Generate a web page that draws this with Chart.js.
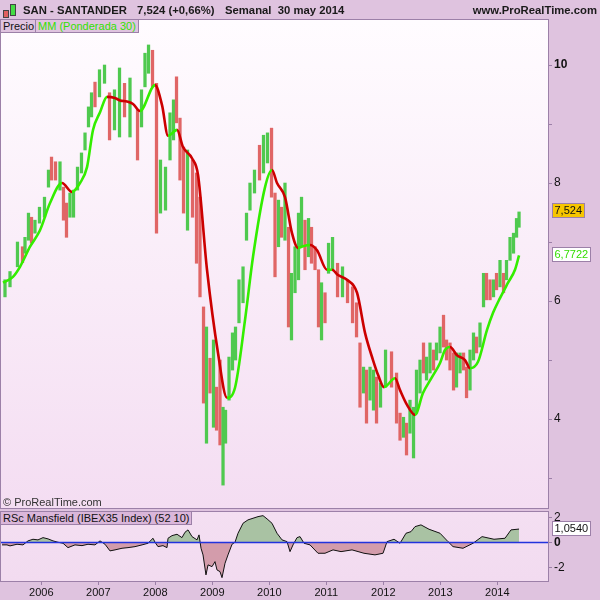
<!DOCTYPE html>
<html>
<head>
<meta charset="utf-8">
<script src="https://cdn.jsdelivr.net/npm/chart.js@4.4.1/dist/chart.umd.min.js"></script>
<style>
  body { margin: 0; background: #dfc3df; font-family: "Liberation Sans", Arial, sans-serif; }
  #wrap { position: relative; width: 600px; height: 600px; overflow: hidden; }
  canvas { position: absolute; left: 0; }
  .hdr { position: absolute; top: 4px; font-weight: bold; font-size: 11.3px; color: #1a1a1a; white-space: nowrap; }
  .tag { position: absolute; height: 12px; line-height: 12px; padding: 0 2px; font-size: 11px;
         background: #dfc3df; border: 1px solid #9c80a8; white-space: nowrap; color: #111; z-index: 2; }
  .candle { position: absolute; border: 1px solid #444; }
</style>
</head>
<body>
<div id="wrap">
  <canvas id="price" width="600" height="509" style="top:0"></canvas>
  <canvas id="rsc" width="600" height="91" style="top:509px"></canvas>

  <div class="candle" style="left:3px;top:10px;width:4px;height:6px;background:#e06060"></div>
  <div class="candle" style="left:10px;top:4px;width:4px;height:10px;background:#44dd44"></div>
  <div class="hdr" style="left:23px">SAN - SANTANDER</div>
  <div class="hdr" style="left:137px">7,524 (+0,66%)</div>
  <div class="hdr" style="left:225px">Semanal&nbsp; 30 may 2014</div>
  <div class="hdr" style="right:3px">www.ProRealTime.com</div>

  <div class="tag" style="left:0;top:19px">Precio</div>
  <div class="tag" style="left:35px;top:19px;color:#33e000">MM (Ponderada 30)</div>
  <div style="position:absolute;left:3px;top:496px;font-size:11px;color:#333">© ProRealTime.com</div>
  <div class="tag" style="left:0;top:511px;background:#dab6da">RSc Mansfield (IBEX35 Index) (52 10)</div>
</div>

<script>
// weekly bars (about 3 weeks per bar)
const barDates = [2005.363, 2005.451, 2005.582, 2005.670, 2005.714, 2005.775, 2005.828, 2005.889, 2005.968, 2006.056,
  2006.126, 2006.179, 2006.249, 2006.328, 2006.389, 2006.442, 2006.503, 2006.565, 2006.635, 2006.705,
  2006.767, 2006.828, 2006.881, 2006.942, 2007.021, 2007.109, 2007.197, 2007.284, 2007.372, 2007.460,
  2007.556, 2007.688, 2007.758, 2007.819, 2007.881, 2007.951, 2008.021, 2008.091, 2008.179, 2008.258,
  2008.319, 2008.372, 2008.433, 2008.495, 2008.565, 2008.653, 2008.723, 2008.784, 2008.846, 2008.898,
  2008.960, 2009.021, 2009.074, 2009.135, 2009.188, 2009.232, 2009.293, 2009.354, 2009.407, 2009.468,
  2009.539, 2009.600, 2009.661, 2009.740, 2009.828, 2009.898, 2009.968, 2010.039, 2010.100, 2010.161,
  2010.214, 2010.275, 2010.337, 2010.389, 2010.451, 2010.512, 2010.565, 2010.626, 2010.688, 2010.740,
  2010.802, 2010.863, 2010.916, 2010.977, 2011.039, 2011.109, 2011.197, 2011.284, 2011.372, 2011.460,
  2011.530, 2011.591, 2011.653, 2011.705, 2011.767, 2011.828, 2011.881, 2011.951, 2012.039, 2012.144,
  2012.232, 2012.293, 2012.354, 2012.407, 2012.468, 2012.530, 2012.582, 2012.644, 2012.705, 2012.758,
  2012.819, 2012.881, 2012.933, 2012.995, 2013.056, 2013.109, 2013.170, 2013.232, 2013.284, 2013.346,
  2013.407, 2013.460, 2013.521, 2013.582, 2013.635, 2013.696, 2013.758, 2013.810, 2013.872, 2013.933,
  2013.986, 2014.047, 2014.109, 2014.161, 2014.223, 2014.284, 2014.337, 2014.381];

const barHigh = [6.36, 6.50, 7.00, 6.92, 7.08, 7.49, 7.42, 7.37, 7.59, 7.76,
  8.22, 8.44, 8.36, 8.36, 7.93, 7.66, 7.83, 7.88, 8.27, 8.51,
  8.85, 9.29, 9.53, 9.71, 9.92, 10.00, 9.53, 9.58, 9.95, 9.69,
  9.78, 9.24, 9.58, 10.20, 10.34, 10.25, 9.69, 8.39, 8.27, 9.19,
  9.41, 9.80, 9.10, 8.61, 8.56, 8.39, 8.17, 7.76, 5.90, 5.56,
  5.03, 5.34, 4.54, 5.00, 4.20, 4.15, 5.05, 5.46, 5.56, 6.36,
  6.58, 7.49, 8.00, 8.22, 8.64, 8.81, 8.85, 8.93, 7.83, 7.71,
  7.59, 8.00, 7.25, 6.47, 6.92, 7.49, 7.76, 7.37, 7.40, 7.25,
  6.92, 6.53, 6.31, 6.14, 6.98, 7.08, 6.64, 6.58, 6.36, 6.24,
  5.97, 5.29, 4.88, 4.83, 4.88, 4.83, 4.71, 4.61, 5.17, 5.14,
  4.78, 4.10, 4.03, 3.93, 4.32, 4.20, 4.83, 5.00, 5.29, 5.05,
  5.29, 5.17, 5.29, 5.56, 5.76, 5.34, 5.29, 5.12, 5.12, 5.12,
  5.12, 4.88, 5.17, 5.46, 5.39, 5.63, 6.47, 6.47, 6.36, 6.36,
  6.47, 6.69, 6.47, 6.69, 7.08, 7.15, 7.40, 7.51];

const barLow = [6.07, 6.24, 6.58, 6.65, 6.81, 7.03, 6.98, 7.15, 7.32, 7.42,
  7.93, 8.05, 8.05, 7.88, 7.37, 7.08, 7.42, 7.42, 7.88, 8.17,
  8.56, 8.95, 9.12, 9.29, 9.46, 9.69, 8.73, 8.90, 8.78, 9.12,
  8.78, 8.39, 8.95, 9.63, 9.86, 9.63, 7.15, 7.49, 7.54, 8.39,
  8.73, 9.02, 8.05, 7.49, 7.20, 7.42, 6.64, 6.07, 4.27, 3.59,
  4.44, 3.86, 3.81, 3.56, 2.88, 3.59, 4.32, 4.83, 5.00, 5.63,
  5.97, 7.03, 7.54, 7.83, 8.05, 8.17, 8.34, 7.76, 6.41, 6.92,
  7.08, 7.03, 5.56, 5.34, 6.14, 6.36, 6.92, 6.53, 6.75, 6.64,
  6.53, 5.56, 5.34, 5.63, 6.47, 6.53, 6.07, 6.07, 5.97, 5.63,
  5.39, 4.20, 4.44, 3.93, 4.32, 4.15, 3.93, 4.20, 4.54, 4.54,
  3.93, 3.64, 3.69, 3.39, 3.76, 3.34, 4.10, 4.44, 4.78, 4.66,
  4.78, 4.83, 5.00, 5.12, 5.22, 5.00, 4.83, 4.49, 4.54, 4.78,
  4.83, 4.36, 4.49, 5.00, 5.12, 5.22, 5.90, 6.02, 6.02, 6.07,
  6.19, 6.24, 6.14, 6.36, 6.69, 6.81, 7.08, 7.25];

// 1 = closed up (green), 0 = closed down (red)
const barUp = [1, 1, 1, 0, 1, 1, 0, 1, 1, 1,
  1, 0, 0, 1, 0, 0, 1, 1, 1, 1,
  1, 1, 1, 0, 1, 1, 0, 1, 1, 0,
  1, 0, 1, 1, 1, 0, 0, 1, 1, 1,
  1, 0, 0, 0, 1, 0, 0, 0, 0, 1,
  0, 1, 0, 0, 1, 1, 1, 1, 1, 1,
  1, 1, 1, 1, 0, 1, 1, 0, 0, 1,
  0, 1, 0, 1, 1, 1, 1, 0, 1, 0,
  0, 0, 1, 0, 1, 1, 0, 1, 0, 0,
  0, 0, 1, 0, 1, 1, 0, 1, 1, 0,
  0, 0, 1, 0, 1, 1, 1, 1, 0, 1,
  1, 0, 1, 1, 0, 0, 0, 0, 1, 1,
  0, 0, 1, 1, 0, 1, 1, 0, 0, 1,
  0, 1, 0, 1, 1, 1, 1, 1];

// weighted moving average 30
const maDates = [2005.328, 2005.503, 2005.626, 2005.802, 2005.977, 2006.153, 2006.363, 2006.539, 2006.679, 2006.802,
  2006.907, 2007.030, 2007.153, 2007.293, 2007.381, 2007.503, 2007.609, 2007.732, 2007.995, 2008.118,
  2008.223, 2008.381, 2008.486, 2008.644, 2008.749, 2008.907, 2009.100, 2009.258, 2009.398, 2009.574,
  2009.714, 2009.925, 2010.047, 2010.135, 2010.275, 2010.398, 2010.503, 2010.591, 2010.714, 2010.837,
  2011.012, 2011.100, 2011.205, 2011.363, 2011.539, 2011.679, 2011.819, 2011.907, 2012.012, 2012.205,
  2012.293, 2012.416, 2012.556, 2012.696, 2012.854, 2012.995, 2013.082, 2013.170, 2013.293, 2013.433,
  2013.521, 2013.661, 2013.819, 2013.925, 2014.047, 2014.188, 2014.310, 2014.381];

const maValues = [6.31, 6.41, 6.58, 6.92, 7.20, 7.66, 8.00, 7.85, 8.00, 8.27,
  8.90, 9.20, 9.46, 9.44, 9.40, 9.38, 9.34, 9.22, 9.66, 9.32,
  8.80, 8.90, 8.61, 8.42, 8.14, 6.53, 5.12, 4.36, 4.53, 5.68,
  6.75, 7.93, 8.22, 8.00, 7.76, 7.15, 6.90, 6.93, 6.95, 6.86,
  6.53, 6.53, 6.44, 6.36, 6.14, 5.46, 5.00, 4.75, 4.54, 4.69,
  4.49, 4.24, 4.07, 4.44, 4.71, 4.95, 5.17, 5.22, 5.08, 5.00,
  4.86, 4.97, 5.51, 5.80, 6.05, 6.31, 6.53, 6.7722];

// RSc Mansfield vs IBEX35 (52 10)
const rsDates = [2005.311, 2005.398, 2005.451, 2005.574, 2005.679, 2005.767, 2005.854, 2005.942, 2006.030, 2006.118,
  2006.205, 2006.293, 2006.381, 2006.468, 2006.591, 2006.714, 2006.819, 2006.942, 2007.030, 2007.118,
  2007.205, 2007.293, 2007.416, 2007.521, 2007.644, 2007.767, 2007.872, 2007.960, 2007.995, 2008.047,
  2008.135, 2008.205, 2008.223, 2008.293, 2008.381, 2008.468, 2008.521, 2008.574, 2008.644, 2008.732,
  2008.767, 2008.802, 2008.837, 2008.889, 2008.925, 2008.995, 2009.047, 2009.082, 2009.135, 2009.170,
  2009.223, 2009.275, 2009.346, 2009.398, 2009.451, 2009.539, 2009.626, 2009.714, 2009.802, 2009.889,
  2009.960, 2010.047, 2010.135, 2010.223, 2010.311, 2010.363, 2010.416, 2010.486, 2010.539, 2010.609,
  2010.714, 2010.854, 2010.977, 2011.118, 2011.258, 2011.451, 2011.661, 2011.854, 2011.995, 2012.065,
  2012.188, 2012.293, 2012.398, 2012.486, 2012.556, 2012.661, 2012.802, 2012.995, 2013.135, 2013.223,
  2013.398, 2013.574, 2013.732, 2013.942, 2014.135, 2014.240, 2014.381];

const rsValues = [-0.21, -0.21, -0.29, -0.16, -0.21, 0.11, 0.24, 0.19, 0.37, 0.27,
  0.11, 0.00, -0.08, -0.43, -0.21, -0.27, -0.16, -0.21, 0.11, -0.16,
  -0.69, -0.61, -0.48, -0.43, -0.35, -0.21, -0.08, 0.32, 0.00, -0.35,
  -0.27, -0.43, 0.32, 0.53, 0.64, 0.37, 0.80, 0.99, 0.45, 0.19,
  0.59, -0.48, -1.01, -2.61, -1.81, -1.95, -1.55, -2.21, -2.35, -2.83,
  -1.68, -1.01, -0.16, 0.00, 0.72, 1.52, 1.79, 1.92, 2.05, 2.13,
  1.87, 1.52, 0.72, 0.19, 0.05, -0.75, -0.21, 0.37, 0.45, -0.08,
  -0.21, -0.88, -0.88, -0.61, -0.75, -0.61, -0.88, -1.01, -0.88, 0.05,
  0.24, -0.08, 0.72, 0.85, 1.25, 1.39, 1.04, 0.72, 0.05, -0.35,
  -0.48, -0.08, 0.45, 0.24, 0.32, 0.99, 1.054];

const years = [2006, 2007, 2008, 2009, 2010, 2011, 2012, 2013, 2014];
const priceTicks = [3, 4, 5, 6, 7, 8, 9, 10];
const rsTicks = [-2, 0, 2];
const lastClose = 7.524;
const lastMA = 6.7722;
const lastRS = 1.054;

const xMin = 2005.293;
const xMax = 2014.889;
const upColor = "#4fc94f";
const downColor = "#e06666";
const frame = "#9c80a8";

Chart.defaults.font.family = "'Liberation Sans', Arial, sans-serif";

const toComma = (v, d) => v.toFixed(d).replace(".", ",");

// right axis keeps a fixed width and no extra room for its end labels
const fixAxis = (s) => {
    s.width = 52;
    s.paddingTop = 0;
    s.paddingBottom = 0;
};

// background, frame, zero line and the little value boxes on the axis
const panel = {
  id: "panel",
  beforeDraw: (chart, args, opts) => {
    let {ctx, chartArea} = chart;
    let g = ctx.createLinearGradient(0, chartArea.top, 0, chartArea.bottom);
    g.addColorStop(0, opts.top);
    g.addColorStop(1, opts.bottom);
    ctx.save();
    ctx.fillStyle = g;
    ctx.fillRect(chartArea.left, chartArea.top, chartArea.width, chartArea.height);
    ctx.restore();
  },
  afterDatasetsDraw: (chart, args, opts) => {
    if (!opts.zero) return;
    let {ctx, chartArea} = chart;
    let y = Math.round(chart.scales.y.getPixelForValue(0)) + 0.5;
    ctx.save();
    ctx.strokeStyle = "#2233dd";
    ctx.lineWidth = 1.5;
    ctx.beginPath();
    ctx.moveTo(chartArea.left, y);
    ctx.lineTo(chartArea.right, y);
    ctx.stroke();
    ctx.restore();
  },
  afterDraw: (chart, args, opts) => {
    let {ctx, chartArea} = chart;
    ctx.save();
    ctx.strokeStyle = frame;
    ctx.lineWidth = 1;
    ctx.strokeRect(chartArea.left - 0.5, chartArea.top - 0.5, chartArea.width + 1, chartArea.height + 1);
    ctx.font = "11px 'Liberation Sans', Arial, sans-serif";
    ctx.textBaseline = "middle";
    (opts.tags || []).forEach((t) => {
      let y = Math.round(chart.scales.y.getPixelForValue(t.value));
      let w = Math.ceil(ctx.measureText(t.text).width) + 4;
      ctx.fillStyle = t.bg;
      ctx.fillRect(552.5, y - 7.5, w, 14);
      ctx.strokeStyle = frame;
      ctx.strokeRect(552.5, y - 7.5, w, 14);
      ctx.fillStyle = t.fg;
      ctx.fillText(t.text, 554.5, y);
    });
    ctx.restore();
  }
};

const priceChart = new Chart(document.getElementById("price"), {
  type: "bar",
  data: {
    datasets: [
      {
        type: "line",
        data: maDates.map((d, i) => ({x: d, y: maValues[i]})),
        borderColor: "#33ee00",
        borderWidth: 2.6,
        pointRadius: 0,
        cubicInterpolationMode: "monotone",
        segment: {
          borderColor: (c) => c.p1.parsed.y >= c.p0.parsed.y ? "#33ee00" : "#cc0000"
        },
        order: 0
      },
      {
        type: "bar",
        data: barDates.map((d, i) => ({x: d, y: [barLow[i], barHigh[i]]})),
        backgroundColor: barUp.map((u) => u ? upColor : downColor),
        barThickness: 2.6,
        order: 1
      }
    ]
  },
  options: {
    responsive: false,
    animation: false,
    layout: {padding: {top: 20, left: 1, right: 0, bottom: 1}},
    plugins: {
      legend: {display: false},
      tooltip: {enabled: false},
      panel: {
        top: "#fffcff",
        bottom: "#f4ddf2",
        tags: [
          {value: lastClose, text: toComma(lastClose, 3), bg: "#f7c600", fg: "#111"},
          {value: lastMA, text: toComma(lastMA, 4), bg: "#ffffff", fg: "#33dd00"}
        ]
      }
    },
    scales: {
      x: {type: "linear", min: xMin, max: xMax, offset: false, display: false},
      y: {
        position: "right",
        min: 2.492,
        max: 10.763,
        afterFit: fixAxis,
        afterBuildTicks: (s) => { s.ticks = priceTicks.map((v) => ({value: v})); },
        border: {display: false},
        grid: {drawOnChartArea: false, tickLength: 4, color: frame},
        ticks: {
          padding: 2,
          color: "#111",
          font: (c) => ({size: 12, weight: c.tick && c.tick.value === 10 ? "bold" : "normal"}),
          callback: (v) => v % 2 === 0 ? String(v) : ""
        }
      }
    }
  },
  plugins: [panel]
});

const rsChart = new Chart(document.getElementById("rsc"), {
  type: "line",
  data: {
    datasets: [{
      data: rsDates.map((d, i) => ({x: d, y: rsValues[i]})),
      borderColor: "#111",
      borderWidth: 1,
      pointRadius: 0,
      tension: 0,
      fill: {target: {value: 0}, above: "#a9c2a3", below: "#d39cab"}
    }]
  },
  options: {
    responsive: false,
    animation: false,
    layout: {padding: {top: 3, left: 1, right: 0, bottom: 0}},
    plugins: {
      legend: {display: false},
      tooltip: {enabled: false},
      panel: {
        top: "#f4dff2",
        bottom: "#f2dbf0",
        zero: true,
        tags: [{value: lastRS, text: toComma(lastRS, 4), bg: "#ffffff", fg: "#111"}]
      }
    },
    scales: {
      x: {
        type: "linear",
        min: xMin,
        max: xMax,
        offset: false,
        afterFit: (s) => { s.height = 19; },
        afterBuildTicks: (s) => { s.ticks = years.map((v) => ({value: v})); },
        border: {display: false},
        grid: {drawOnChartArea: false, tickLength: 4, color: frame},
        ticks: {color: "#111", font: {size: 11}, padding: 1, maxRotation: 0, autoSkip: false,
          callback: (v) => String(v)}
      },
      y: {
        position: "right",
        min: -3.1,
        max: 2.42,
        afterFit: fixAxis,
        afterBuildTicks: (s) => { s.ticks = rsTicks.map((v) => ({value: v})); },
        border: {display: false},
        grid: {drawOnChartArea: false, tickLength: 4, color: frame},
        ticks: {
          padding: 2,
          color: "#111",
          font: (c) => ({size: 12, weight: c.tick && c.tick.value === 0 ? "bold" : "normal"}),
          callback: (v) => String(v)
        }
      }
    }
  },
  plugins: [panel]
});
</script>
</body>
</html>
